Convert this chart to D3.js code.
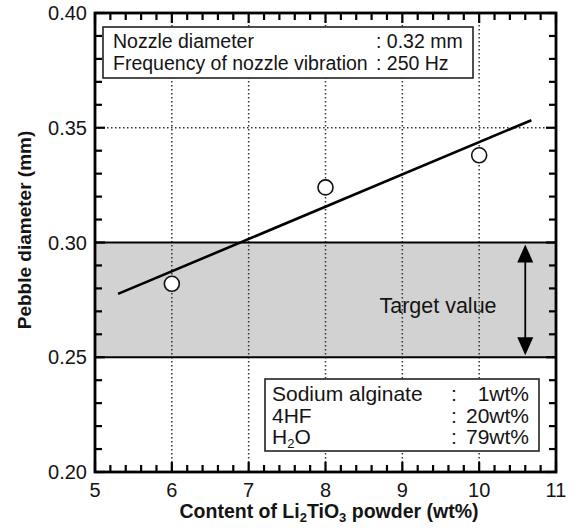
<!DOCTYPE html>
<html><head><meta charset="utf-8">
<script src="https://cdn.jsdelivr.net/npm/d3@7"></script>
<style>body{margin:0;background:#fff}svg{font-family:"Liberation Sans",Arial,sans-serif}</style>
</head><body><svg id="c" width="580" height="530"></svg>
<script>
const xTicks = [5,6,7,8,9,10,11];
const yTicks = [0.20,0.25,0.30,0.35,0.40];
const xGrid = [6,7,8,9,10];
const yGrid = [0.35];
const pointX = [6,8,10];
const pointY = [0.282,0.324,0.338];
const fitX = [5.3,10.68];
const fitY = [0.2776,0.3533];
const band = [0.25,0.30];
const infoLabels = ["Nozzle diameter","Frequency of nozzle vibration"];
const infoValues = [": 0.32 mm",": 250 Hz"];
const compLabels = ["Sodium alginate","4HF","H₂O"];
const compValues = ["1wt%","20wt%","79wt%"];

const svg = d3.select("#c");
const L=95,R=556,T=13,B=472;
const x = d3.scaleLinear().domain([5,11]).range([L,R]);
const y = d3.scaleLinear().domain([0.20,0.40]).range([B,T]);
const ink = "#141414";

// band
svg.append("rect").attr("x",L).attr("width",R-L).attr("y",y(band[1])).attr("height",y(band[0])-y(band[1])).attr("fill","#d2d2d2");
// grid
svg.selectAll(".gx").data(xGrid).enter().append("line").attr("x1",d=>x(d)).attr("x2",d=>x(d)).attr("y1",T).attr("y2",B)
  .attr("stroke","#333").attr("stroke-width",1.5).attr("stroke-dasharray","1.5,2.5");
svg.selectAll(".gy").data(yGrid).enter().append("line").attr("y1",d=>y(d)).attr("y2",d=>y(d)).attr("x1",L).attr("x2",R)
  .attr("stroke","#333").attr("stroke-width",1.5).attr("stroke-dasharray","1.5,2.5");
// band edges
svg.selectAll(".be").data(band).enter().append("line").attr("y1",d=>y(d)).attr("y2",d=>y(d)).attr("x1",L).attr("x2",R)
  .attr("stroke","#000").attr("stroke-width",2.2);

svg.append("rect").attr("x",L).attr("y",T).attr("width",R-L).attr("height",B-T).attr("fill","none").attr("stroke","#000").attr("stroke-width",2.8);

// ticks (inward, all four sides) drawn as small filled rects
const xMinor = d3.range(0,31).map(i=>5+i*0.2);
const yMinor = d3.range(0,21).map(i=>0.20+i*0.01);
const isMajorX = v => xTicks.some(t=>Math.abs(t-v)<1e-6);
const isMajorY = v => yTicks.some(t=>Math.abs(t-v)<1e-6);
const tw = 2.2;
const tickRects = [];
xMinor.forEach(v=>{ const len = isMajorX(v)?10:7; const px = x(v);
  tickRects.push({x:px-tw/2, y:B-len, w:tw, h:len});
  tickRects.push({x:px-tw/2, y:T, w:tw, h:len}); });
yMinor.forEach(v=>{ const len = isMajorY(v)?10:7; const py = y(v);
  tickRects.push({x:L, y:py-tw/2, w:len, h:tw});
  tickRects.push({x:R-len, y:py-tw/2, w:len, h:tw}); });
svg.append("g").selectAll("rect").data(tickRects).join("rect")
  .attr("x",d=>d.x).attr("y",d=>d.y).attr("width",d=>d.w).attr("height",d=>d.h).attr("fill","#000");

// tick labels
svg.selectAll(".xl").data(xTicks).enter().append("text").attr("x",d=>x(d)).attr("y",B+25).attr("text-anchor","middle")
  .attr("font-size",20).attr("fill",ink).text(d3.format("d"));
svg.selectAll(".yl").data(yTicks).enter().append("text").attr("x",L-8).attr("y",d=>y(d)+7).attr("text-anchor","end")
  .attr("font-size",20).attr("fill",ink).text(d3.format(".2f"));

// fit line
svg.append("path").datum(d3.zip(fitX,fitY)).attr("d",d3.line().x(d=>x(d[0])).y(d=>y(d[1])))
  .attr("stroke","#000").attr("stroke-width",2.6).attr("fill","none");
// points
svg.selectAll(".pt").data(d3.zip(pointX,pointY)).enter().append("circle").attr("cx",d=>x(d[0])).attr("cy",d=>y(d[1])).attr("r",7.5)
  .attr("fill","#fff").attr("stroke","#111").attr("stroke-width",1.6);

// arrow
const ax = x(10.6);
svg.append("line").attr("x1",ax).attr("x2",ax).attr("y1",y(0.30)+10).attr("y2",y(0.25)-10).attr("stroke","#000").attr("stroke-width",1.8);
svg.append("path").attr("d",`M${ax},${y(0.30)+2}L${ax-8},${y(0.30)+20}L${ax+8},${y(0.30)+20}Z`).attr("fill","#000");
svg.append("path").attr("d",`M${ax},${y(0.25)-2}L${ax-8},${y(0.25)-20}L${ax+8},${y(0.25)-20}Z`).attr("fill","#000");
svg.append("text").attr("x",438).attr("y",313).attr("text-anchor","middle").attr("font-size",21.5).attr("fill",ink).text("Target value");

// info box
svg.append("rect").attr("x",103).attr("y",27).attr("width",370).attr("height",51).attr("fill","#fff").attr("stroke","#222").attr("stroke-width",1.6);
infoLabels.forEach((t,i)=>{
  svg.append("text").attr("x",113).attr("y",48+i*22).attr("font-size",19.5).attr("fill",ink).text(t);
  svg.append("text").attr("x",376).attr("y",48+i*22).attr("font-size",19.5).attr("fill",ink).text(infoValues[i]);
});
// composition box
svg.append("rect").attr("x",265).attr("y",379).attr("width",274).attr("height",72).attr("fill","#fff").attr("stroke","#222").attr("stroke-width",1.6);
compLabels.forEach((t,i)=>{
  const yy = 401+i*21.5;
  const tx = svg.append("text").attr("x",272).attr("y",yy).attr("font-size",21).attr("fill",ink);
  if(t==="H₂O"){ tx.append("tspan").text("H"); tx.append("tspan").text("2").attr("font-size",13).attr("dy",4); tx.append("tspan").text("O").attr("dy",-4); }
  else tx.text(t);
  svg.append("text").attr("x",451).attr("y",yy).attr("font-size",21).attr("fill",ink).text(":");
  svg.append("text").attr("x",529).attr("y",yy).attr("text-anchor","end").attr("font-size",21).attr("fill",ink).text(compValues[i]);
});

// axis titles
const xt = svg.append("text").attr("x",329).attr("y",518).attr("text-anchor","middle").attr("font-size",19.5).attr("font-weight","bold").attr("fill",ink);
xt.append("tspan").text("Content of Li");
xt.append("tspan").text("2").attr("font-size",13).attr("dy",4);
xt.append("tspan").text("TiO").attr("dy",-4);
xt.append("tspan").text("3").attr("font-size",13).attr("dy",4);
xt.append("tspan").text(" powder (wt%)").attr("dy",-4);
svg.append("text").attr("transform",`translate(31,230) rotate(-90)`).attr("text-anchor","middle").attr("font-size",19).attr("font-weight","bold").attr("fill",ink).text("Pebble diameter (mm)");
</script></body></html>
